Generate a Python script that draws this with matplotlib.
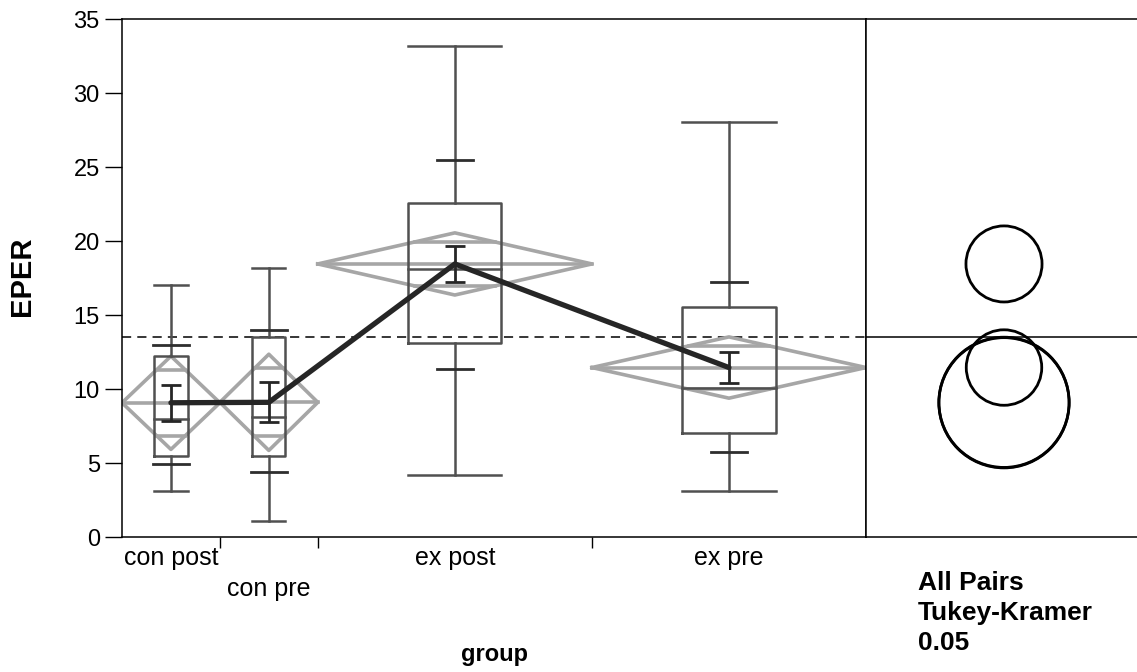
import numpy as np
import matplotlib
matplotlib.use('Agg')
import matplotlib.pyplot as plt
from matplotlib.patches import Circle

plt.rcParams['font.family'] = ['Liberation Sans', 'DejaVu Sans']

# data
groups = ['con post', 'con pre', 'ex post', 'ex pre']
counts = [10, 10, 28, 28]
means = [9.07, 9.1, 18.45, 11.45]
ci_half = [3.15, 3.25, 2.1, 2.07]
std_err = [1.2, 1.35, 1.2, 1.05]
q1 = [5.45, 5.45, 13.1, 7.0]
medians = [8.0, 8.1, 18.1, 10.05]
q3 = [12.25, 13.5, 22.55, 15.56]
lo_mark = [4.9, 4.4, 11.35, 5.75]
hi_mark = [13.0, 14.0, 25.5, 17.2]
mins = [3.1, 1.1, 4.2, 3.1]
maxs = [17.0, 18.15, 33.15, 28.05]
grand_mean = 13.5
circle_radius = [4.4, 4.4, 2.57, 2.55]

box_c = '#505050'
dia_c = '#a6a6a6'
dark = '#262626'

W, H = 1137, 672
fig = plt.figure(figsize=(W / 100, H / 100), dpi=100)
ax = fig.add_axes([122 / W, 135 / H, 744 / W, 518 / H])
ax2 = fig.add_axes([866 / W, 135 / H, 271 / W, 518 / H])

counts = np.array(counts, dtype=float)
edges = np.concatenate([[0], np.cumsum(counts)])
centers = edges[:-1] + counts / 2

for i in range(len(groups)):
    c = centers[i]
    n = counts[i]
    bw = 0.17 * n
    # mean diamond with overlap marks
    ax.plot([edges[i], c, edges[i + 1], c, edges[i]],
            [means[i], means[i] + ci_half[i], means[i], means[i] - ci_half[i], means[i]],
            color=dia_c, lw=2.6, zorder=2)
    ax.plot([edges[i], edges[i + 1]], [means[i], means[i]], color=dia_c, lw=2.6, zorder=2)
    for s in (1, -1):
        yy = means[i] + s * ci_half[i] / np.sqrt(2)
        hw = n / 2 * (1 - 1 / np.sqrt(2))
        ax.plot([c - hw, c + hw], [yy, yy], color=dia_c, lw=2.6, zorder=2)
    # box plot
    ax.plot([c - bw, c + bw, c + bw, c - bw, c - bw], [q1[i], q1[i], q3[i], q3[i], q1[i]],
            color=box_c, lw=1.8, zorder=3)
    ax.plot([c - bw, c + bw], [medians[i], medians[i]], color=box_c, lw=1.8, zorder=3)
    ax.plot([c, c], [q3[i], maxs[i]], color=box_c, lw=1.8, zorder=3)
    ax.plot([c, c], [q1[i], mins[i]], color=box_c, lw=1.8, zorder=3)
    ax.plot([c - bw, c + bw], [maxs[i], maxs[i]], color=box_c, lw=1.8, zorder=3)
    ax.plot([c - bw, c + bw], [mins[i], mins[i]], color=box_c, lw=1.8, zorder=3)
    for v in (lo_mark[i], hi_mark[i]):
        ax.plot([c - 1.85, c + 1.85], [v, v], color='#2e2e2e', lw=2.0, zorder=3)
    # std error bars
    ax.errorbar(c, means[i], yerr=std_err[i], color=dark, lw=2.0, capsize=7,
                capthick=2.0, zorder=5)

ax.plot(centers, means, color=dark, lw=3.8, solid_capstyle='round', zorder=6)
ax.axhline(grand_mean, color='black', lw=1.1, ls=(0, (6, 4)), zorder=1)

ax.set_xlim(edges[0], edges[-1])
ax.set_ylim(0, 35)
ax.set_yticks(np.arange(0, 36, 5))
ax.set_xticks(edges[1:-1])
ax.set_xticklabels([])
ax.tick_params(axis='y', direction='out', length=12, width=1, labelsize=17, pad=4)
ax.tick_params(axis='x', direction='out', length=8, width=1)
for sp in ax.spines.values():
    sp.set_linewidth(1.1)

trans = ax.get_xaxis_transform()
label_rows = [-0.04, -0.1, -0.04, -0.04]
for i, g in enumerate(groups):
    ax.text(centers[i], label_rows[i], g, transform=trans, ha='center', va='center',
            fontsize=18)

fig.text(22 / W, (H - 276) / H, 'EPER', rotation=90, ha='center', va='center',
         fontsize=21, fontweight='bold')
fig.text(494 / W, (H - 654) / H, 'group', ha='center', va='center', fontsize=17,
         fontweight='bold')

# comparison circles panel, equal pixel scale on both axes
ax2.set_ylim(0, 35)
xspan = 35 * (271 / 518)
ax2.set_xlim(0, xspan)
cx = xspan * (138 / 271)
for m, r in zip(means, circle_radius):
    ax2.add_patch(Circle((cx, m), r, fill=False, ec='black', lw=2.0))
ax2.axhline(grand_mean, color='black', lw=1.1)
ax2.set_xticks([])
ax2.set_yticks([])
ax2.spines['right'].set_visible(False)
for sp in ax2.spines.values():
    sp.set_linewidth(1.1)

fig.text(918 / W, (H - 613) / H, 'All Pairs\nTukey-Kramer\n0.05', ha='left', va='center',
         fontsize=19, fontweight='bold', linespacing=1.3)

fig.savefig('out.png', dpi=100)
